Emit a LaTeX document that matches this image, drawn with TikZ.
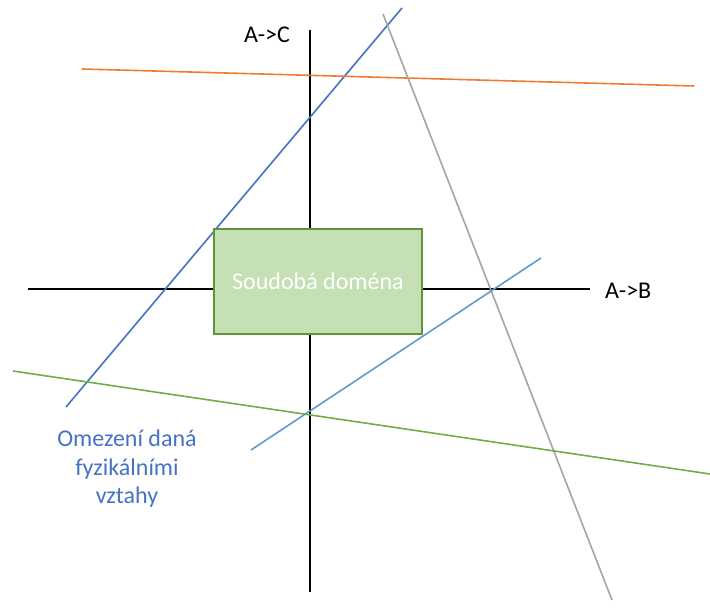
\documentclass[tikz,border=0pt]{standalone}
\usepackage{fontspec}
\setmainfont{Carlito}
\definecolor{darkblue}{HTML}{4472C4}
\definecolor{orangeln}{HTML}{ED7D31}
\definecolor{grayln}{HTML}{A5A5A5}
\definecolor{lightblue}{HTML}{5B9BD5}
\definecolor{greenln}{HTML}{70AD47}
\definecolor{boxfill}{HTML}{C5E0B4}
\begin{document}
\begin{tikzpicture}[x=1pt,y=-1pt,every node/.style={font=\fontsize{24}{28.5}\selectfont},
  axis/.style={line width=1.6pt,black},
  limit/.style={line width=1.6pt}]
  \useasboundingbox (0,0) rectangle (710,608);
  % axes
  \coordinate (xl) at (28,289); \coordinate (xr) at (590,289);
  \coordinate (yt) at (310,30); \coordinate (yb) at (310,592);
  \draw[axis] (xl) -- (xr);
  \draw[axis] (yt) -- (yb);
  \node[anchor=west,inner sep=0pt] (ab) at (605,291) {A->B};
  \node[inner sep=0pt] (ac) at (267,35) {A->C};
  % constraint lines
  \coordinate (b1) at (66,407);   \coordinate (b2) at (402,8);
  \coordinate (o1) at (82,69);    \coordinate (o2) at (694,86);
  \coordinate (g1) at (383,14);   \coordinate (g2) at (612,600);
  \coordinate (l1) at (251,450);  \coordinate (l2) at (541,258);
  \coordinate (n1) at (13,371);   \coordinate (n2) at (710,474);
  \draw[limit,darkblue] (b1) -- (b2);
  \draw[limit,orangeln] (o1) -- (o2);
  \draw[limit,grayln] (g1) -- (g2);
  \draw[limit,lightblue] (l1) -- (l2);
  \draw[limit,greenln] (n1) -- (n2);
  % domain
  \node[draw=greenln!85!black,line width=1.3pt,fill=boxfill,minimum width=208pt,minimum height=105pt,text=white] (domain) at (318,281.5) {Soudobá doména};
  \node[align=center,text=darkblue] (note) at (127,469) {Omezení daná\\fyzikálními\\vztahy};
\end{tikzpicture}
\end{document}
